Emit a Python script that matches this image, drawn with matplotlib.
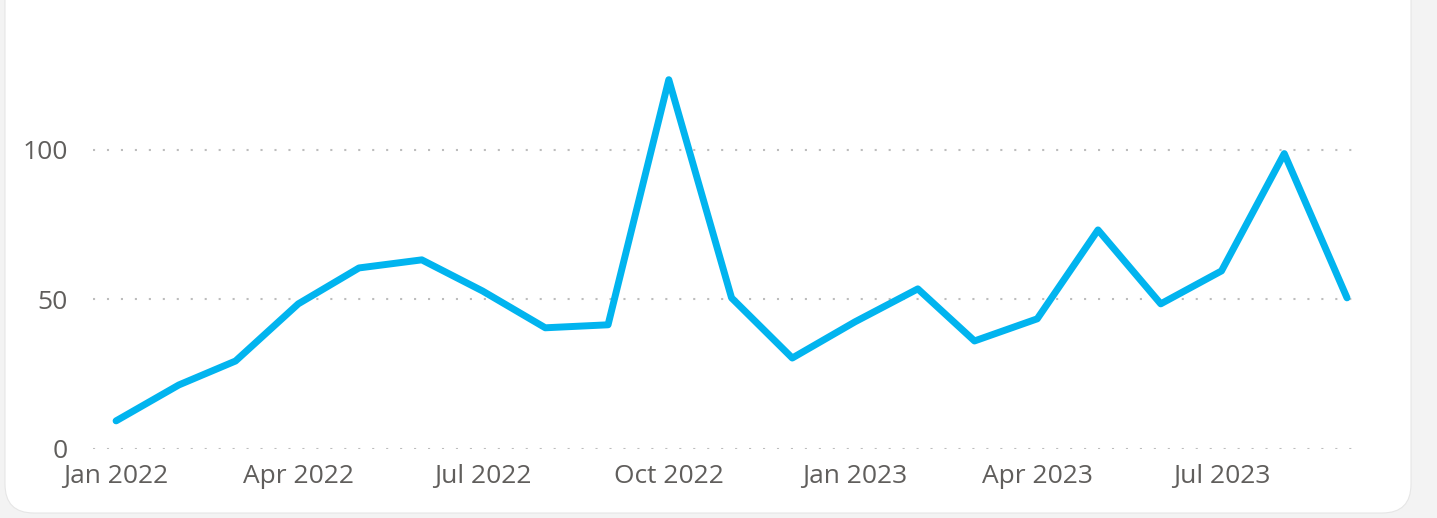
import matplotlib
matplotlib.use("Agg")
import matplotlib.pyplot as plt
import matplotlib.dates as mdates
from matplotlib.patches import FancyBboxPatch
import numpy as np
import datetime as dt

# monthly values, Jan 2022 .. Sep 2023
months = ["2022-01", "2022-02", "2022-03", "2022-04", "2022-05", "2022-06", "2022-07",
          "2022-08", "2022-09", "2022-10", "2022-11", "2022-12", "2023-01", "2023-02",
          "2023-03", "2023-04", "2023-05", "2023-06", "2023-07", "2023-08", "2023-09"]
values = [9.4, 21.4, 29.4, 48.5, 60.5, 63.2, 52.8, 40.5, 41.5, 123.4, 50.5,
          30.4, 42.5, 53.5, 36.1, 43.5, 73.2, 48.5, 59.5, 98.7, 50.5]
yticks = [0, 50, 100]
xtick_months = ["2022-01", "2022-04", "2022-07", "2022-10", "2023-01", "2023-04", "2023-07"]

dates = [dt.datetime.strptime(m, "%Y-%m") for m in months]
xt = [dt.datetime.strptime(m, "%Y-%m") for m in xtick_months]

plt.rcParams["font.family"] = ["Open Sans", "DejaVu Sans"]
W, H = 1437, 518
fig = plt.figure(figsize=(W / 100, H / 100), dpi=100, facecolor="#f3f3f3")

# white card behind the chart
card = FancyBboxPatch((5 / W, 5 / H), 1406 / W, (H + 40) / H,
                      boxstyle="round,pad=0,rounding_size=0.02",
                      transform=fig.transFigure, facecolor="white",
                      edgecolor="#e6e6e6", linewidth=0.8, mutation_aspect=W / H,
                      zorder=-10)
fig.patches.append(card)

ax = fig.add_axes([93 / W, (H - 449) / H, (1362 - 93) / W, (449 - 30) / H])
ax.set_zorder(5)
ax.set_facecolor("none")
ax.plot(dates, values, color="#01B4EF", lw=5, solid_joinstyle="round",
        solid_capstyle="round", clip_on=False, zorder=3)

start = dates[0] - dt.timedelta(days=11.4)
end = dates[-1] + dt.timedelta(days=7.4)
ax.set_xlim(start, end)
ax.set_ylim(0, 140)

ax.set_yticks(yticks)
ax.set_xticks(xt)
ax.xaxis.set_major_formatter(mdates.DateFormatter("%b %Y"))
ax.tick_params(axis="both", length=0, labelsize=19, labelcolor="#605e5c")
ax.tick_params(axis="y", pad=18)
ax.tick_params(axis="x", pad=11)

for y in yticks:
    ax.axhline(y, color="#bdbdbd", lw=1.5, linestyle=(0, (1, 5.7)), zorder=1)

for s in ax.spines.values():
    s.set_visible(False)

fig.savefig("out.png", dpi=100, facecolor=fig.get_facecolor())
